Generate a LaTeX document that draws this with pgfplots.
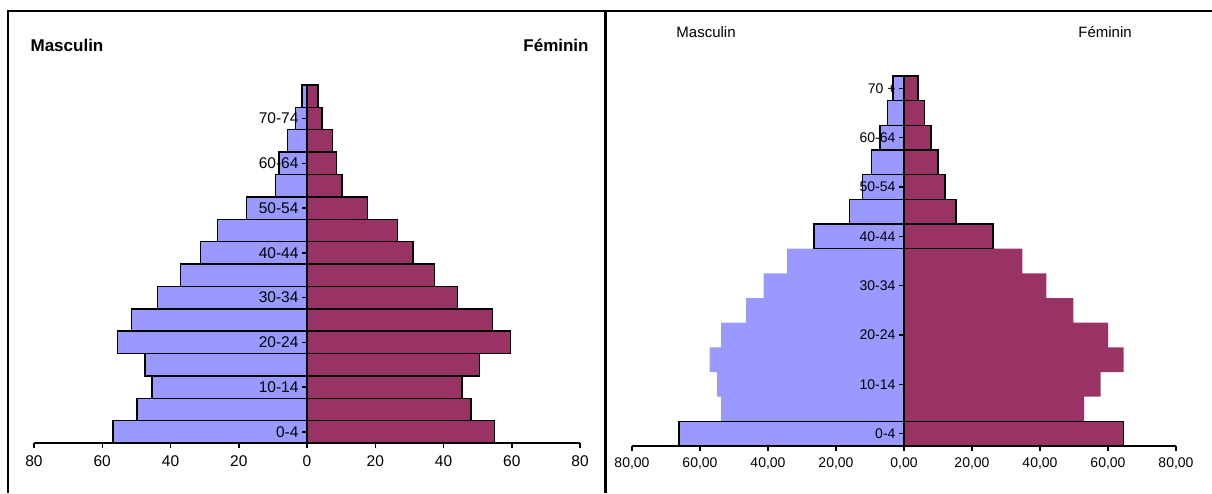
\documentclass[border=0pt]{standalone}
\usepackage{fontspec}
\setmainfont{Liberation Sans}
\usepackage{pgfplots}
\usepackage{pgfplotstable}
\pgfplotsset{compat=1.18}
\definecolor{male}{RGB}{153,153,255}
\definecolor{female}{RGB}{153,51,102}

% left pyramid: index, male (negative), female
\pgfplotstableread{
i m f
0 -56.9 54.9
1 -49.8 48.1
2 -45.4 45.4
3 -47.5 50.6
4 -55.5 59.7
5 -51.5 54.4
6 -43.8 44.1
7 -37.0 37.4
8 -31.2 31.1
9 -26.3 26.5
10 -17.8 17.7
11 -9.2 10.3
12 -8.2 8.6
13 -5.7 7.4
14 -3.4 4.4
15 -1.4 3.2
}\leftdata

% right pyramid: index, male (negative), female
\pgfplotstableread{
i m f
0 -66.2 64.6
1 -53.8 53.0
2 -55.0 57.8
3 -57.2 64.6
4 -53.8 60.0
5 -46.4 49.8
6 -41.3 41.9
7 -34.4 34.8
8 -26.5 26.2
9 -16.0 15.3
10 -12.2 12.0
11 -9.6 10.0
12 -7.1 8.0
13 -4.8 6.0
14 -3.3 4.1
}\rightdata

\begin{document}
\begin{tikzpicture}[x=1pt,y=1pt]
\useasboundingbox (0,0) rectangle (1212,493);
\draw[line width=2.5pt] (8,0) -- (8,482) -- (1212,482);
\draw[line width=3pt] (605,0) -- (605,482);

\node[font=\bfseries\fontsize{17}{20}\selectfont] at (67,448) {Masculin};
\node[font=\bfseries\fontsize{17}{20}\selectfont] at (556,448) {Féminin};
\node[font=\fontsize{15}{18}\selectfont] at (706,461) {Masculin};
\node[font=\fontsize{15}{18}\selectfont] at (1105,461) {Féminin};

\begin{axis}[
  at={(34pt,50pt)}, anchor=south west,
  scale only axis, width=546pt, height=358pt,
  xmin=-80, xmax=80, ymin=-0.5, ymax=15.5,
  axis on top,
  axis x line*=bottom, axis y line*=center,
  axis line style={line width=2pt},
  xtick={-80,-60,-40,-20,0,20,40,60,80},
  xticklabels={80,60,40,20,0,20,40,60,80},
  ytick={0,2,4,6,8,10,12,14},
  yticklabels={0-4,10-14,20-24,30-34,40-44,50-54,60-64,70-74},
  /pgf/number format/assume math mode=true,
  xticklabel style={font=\fontsize{15.5}{18}\selectfont, yshift=-4pt},
  yticklabel style={font=\fontsize{15.5}{18}\selectfont},
  tick align=outside, major tick length=5pt,
  tick style={line width=1.5pt, black},
  clip=false,
]
\addplot[xbar, bar width=1, bar shift=0, fill=male, draw=black, line width=1.5pt] table[x=m, y=i] {\leftdata};
\addplot[xbar, bar width=1, bar shift=0, fill=female, draw=black, line width=1.5pt] table[x=f, y=i] {\leftdata};
\end{axis}

\begin{axis}[
  at={(632pt,47pt)}, anchor=south west,
  scale only axis, width=544pt, height=370pt,
  xmin=-80, xmax=80, ymin=-0.5, ymax=14.5,
  axis on top,
  axis x line*=bottom, axis y line*=center,
  axis line style={line width=1.5pt},
  xtick={-80,-60,-40,-20,0,20,40,60,80},
  xticklabels={{80,00},{60,00},{40,00},{20,00},{0,00},{20,00},{40,00},{60,00},{80,00}},
  ytick={0,2,4,6,8,10,12,14},
  yticklabels={0-4,10-14,20-24,30-34,40-44,50-54,60-64,70 +},
  /pgf/number format/assume math mode=true,
  xticklabel style={font=\fontsize{14}{17}\selectfont, yshift=-3pt},
  yticklabel style={font=\fontsize{14}{17}\selectfont},
  tick align=outside, major tick length=5pt,
  tick style={line width=1.5pt, black},
  clip=false,
]
\addplot[xbar, bar width=1, bar shift=0, fill=male, draw=none] table[x=m, y=i] {\rightdata};
\addplot[xbar, bar width=1, bar shift=0, fill=female, draw=none] table[x=f, y=i] {\rightdata};
\addplot[xbar, bar width=1, bar shift=0, fill=none, draw=black, line width=1.5pt] coordinates {
  (-66.2,0) (-26.5,8) (-16.0,9) (-12.2,10) (-9.6,11) (-7.1,12) (-4.8,13) (-3.3,14)};
\addplot[xbar, bar width=1, bar shift=0, fill=none, draw=black, line width=1.5pt] coordinates {
  (64.6,0) (26.2,8) (15.3,9) (12.0,10) (10.0,11) (8.0,12) (6.0,13) (4.1,14)};
\end{axis}
\end{tikzpicture}
\end{document}
